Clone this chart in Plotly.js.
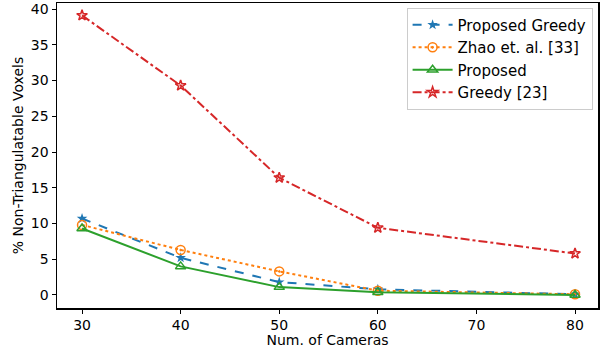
<!DOCTYPE html>
<html>
<head>
<meta charset="utf-8">
<script src="https://cdn.plot.ly/plotly-3.0.1.min.js"></script>
<style>
  html, body { margin: 0; padding: 0; background: #fff; }
  #chart { width: 602px; height: 348px; }
</style>
</head>
<body>
<div id="chart"></div>
<script>
// Data
const cameras = [30, 40, 50, 60, 80];
const proposedGreedy = [10.7, 5.2, 1.8, 0.8, 0.1];
const zhao = [9.8, 6.3, 3.3, 0.6, 0.1];
const proposed = [9.3, 4.0, 1.1, 0.4, 0.0];
const greedy = [39.1, 29.3, 16.4, 9.4, 5.8];
const xTicks = [30, 40, 50, 60, 70, 80];
const yTicks = [0, 5, 10, 15, 20, 25, 30, 35, 40];

const traces = [
    {
        x: cameras, y: proposedGreedy, mode: 'lines+markers', name: 'Proposed Greedy',
        line: { color: '#1f77b4', dash: 'dash', width: 2 },
        marker: { symbol: 'star', size: 8, color: '#1f77b4' }
    },
    {
        x: cameras, y: zhao, mode: 'lines+markers', name: 'Zhao et. al. [33]',
        line: { color: '#ff7f0e', dash: 'dot', width: 2 },
        marker: { symbol: 'circle-open-dot', size: 9, color: '#ff7f0e', line: { width: 1.5 } }
    },
    {
        x: cameras, y: proposed, mode: 'lines+markers', name: 'Proposed',
        line: { color: '#2ca02c', dash: 'solid', width: 2 },
        marker: { symbol: 'triangle-up-open', size: 9, color: '#2ca02c', line: { width: 1.5 } }
    },
    {
        x: cameras, y: greedy, mode: 'lines+markers', name: 'Greedy [23]',
        line: { color: '#d62728', dash: 'dashdot', width: 2 },
        marker: { symbol: 'star-open', size: 8, color: '#d62728', line: { width: 1.5 } }
    }
];

const layout = {
    width: 602,
    height: 348,
    margin: { l: 57, r: 4, t: 3, b: 40 },
    paper_bgcolor: '#fff',
    plot_bgcolor: '#fff',
    font: { family: 'DejaVu Sans', size: 14, color: '#000' },
    showlegend: true,
    legend: {
        x: 0.99, y: 0.985, xanchor: 'right', yanchor: 'top',
        bordercolor: '#ccc', borderwidth: 1, bgcolor: 'rgba(255,255,255,0.8)',
        font: { family: 'DejaVu Sans', size: 15 },
        tracegroupgap: 0, itemwidth: 40
    },
    xaxis: {
        title: { text: 'Num. of Cameras', font: { size: 14 }, standoff: 4 },
        range: [27.46, 82.33],
        tickvals: xTicks,
        tickfont: { size: 14 },
        ticks: 'outside', ticklen: 4, tickwidth: 1, tickcolor: '#000',
        ticklabeloverflow: 'allow',
        showgrid: false, zeroline: false,
        showline: true, linecolor: '#000', linewidth: 1.5, mirror: true
    },
    yaxis: {
        title: { text: '% Non-Triangulatable Voxels', font: { size: 14 }, standoff: 4 },
        range: [-1.82, 40.84],
        tickvals: yTicks,
        tickfont: { size: 14 },
        ticks: 'outside', ticklen: 4, tickwidth: 1, tickcolor: '#000',
        ticklabeloverflow: 'allow',
        showgrid: false, zeroline: false,
        showline: true, linecolor: '#000', linewidth: 1.5, mirror: true
    }
};

Plotly.newPlot('chart', traces, layout, { displayModeBar: false, staticPlot: true });
</script>
</body>
</html>
